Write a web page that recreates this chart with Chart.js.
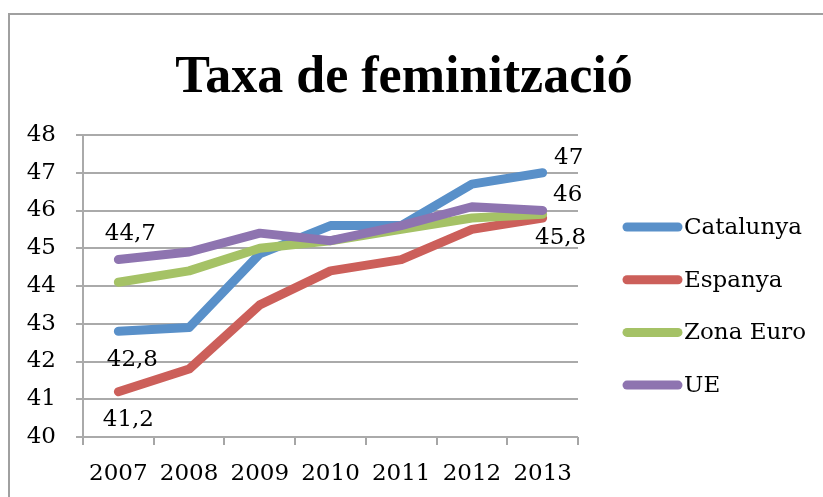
<!DOCTYPE html>
<html>
<head>
<meta charset="utf-8">
<script src="https://cdn.jsdelivr.net/npm/chart.js@4"></script>
<style>
  body { margin: 0; background: #fff; }
  #wrap { position: relative; width: 823px; height: 497px; overflow: hidden; }
  #frame { position: absolute; left: 8px; top: 13px; width: 900px; height: 600px;
           border-left: 2px solid #a0a0a0; border-top: 2px solid #a0a0a0; }
  #chart { position: absolute; left: 0; top: 0; }
</style>
</head>
<body>
<div id="wrap">
  <div id="frame"></div>
  <canvas id="chart" width="823" height="497"></canvas>
</div>
<script>
        // Dades
        const chartTitle = 'Taxa de feminització';
        const years = ['2007', '2008', '2009', '2010', '2011', '2012', '2013'];
        const seriesNames = ['Catalunya', 'Espanya', 'Zona Euro', 'UE'];
        const catalunya = [42.8, 42.9, 44.85, 45.6, 45.6, 46.7, 47.0];
        const espanya = [41.2, 41.8, 43.5, 44.4, 44.7, 45.5, 45.8];
        const zonaEuro = [44.1, 44.4, 45.0, 45.2, 45.5, 45.8, 45.9];
        const ue = [44.7, 44.9, 45.4, 45.2, 45.6, 46.1, 46.0];
        const colors = ['#5990c9', '#cc5f5a', '#a5c266', '#8e74b0'];

        // etiquetes de valor (serie, punt, desplaçament)
        const valueLabels = [
            { ds: 3, i: 0, dx: 12, dy: -26 },
            { ds: 0, i: 0, dx: 14, dy: 29 },
            { ds: 1, i: 0, dx: 10, dy: 28 },
            { ds: 0, i: 6, dx: 26, dy: -15 },
            { ds: 3, i: 6, dx: 25, dy: -15 },
            { ds: 1, i: 6, dx: 18, dy: 20 }
        ];

        const FONT = 'DejaVu Serif';
        const FSIZE = 23;
        const allValues = [catalunya, espanya, zonaEuro, ue];

        const datasets = seriesNames.map((name, k) => ({
            label: name,
            data: allValues[k],
            borderColor: colors[k],
            backgroundColor: colors[k],
            borderWidth: 9,
            borderCapStyle: 'round',
            borderJoinStyle: 'round',
            pointRadius: 0,
            tension: 0,
            order: 3 - k   // UE a dalt de tot, com a Excel
        }));

        // Títol centrat sobre tot el marc
        const titlePlugin = {
            id: 'bigTitle',
            afterDraw(chart) {
                const ctx = chart.ctx;
                ctx.save();
                ctx.font = 'bold 52px "Liberation Serif"';
                ctx.fillStyle = '#000';
                ctx.textAlign = 'center';
                ctx.textBaseline = 'alphabetic';
                ctx.fillText(chartTitle, 404, 92);
                ctx.restore();
            }
        };

        // Etiquetes de dades
        const labelPlugin = {
            id: 'valueLabels',
            afterDatasetsDraw(chart) {
                const ctx = chart.ctx;
                ctx.save();
                ctx.font = FSIZE + 'px "' + FONT + '"';
                ctx.fillStyle = '#000';
                ctx.textAlign = 'center';
                ctx.textBaseline = 'middle';
                valueLabels.forEach(l => {
                    const pt = chart.getDatasetMeta(l.ds).data[l.i];
                    const v = chart.data.datasets[l.ds].data[l.i];
                    ctx.fillText(String(v).replace('.', ','), pt.x + l.dx, pt.y + l.dy);
                });
                ctx.restore();
            }
        };

        // Llegenda a la dreta
        const legendPlugin = {
            id: 'sideLegend',
            afterDraw(chart) {
                const ctx = chart.ctx;
                const x0 = 623, y0 = 227, step = 52.7;
                ctx.save();
                ctx.font = FSIZE + 'px "' + FONT + '"';
                ctx.textBaseline = 'middle';
                chart.data.datasets.forEach((d, k) => {
                    const y = y0 + k * step;
                    ctx.strokeStyle = d.borderColor;
                    ctx.lineWidth = 9;
                    ctx.lineCap = 'round';
                    ctx.beginPath();
                    ctx.moveTo(x0 + 4, y);
                    ctx.lineTo(x0 + 55, y);
                    ctx.stroke();
                    ctx.fillStyle = '#000';
                    ctx.fillText(d.label, x0 + 61, y + 1);
                });
                ctx.restore();
            }
        };

        new Chart(document.getElementById('chart'), {
            type: 'line',
            data: { labels: years, datasets: datasets },
            options: {
                responsive: false,
                animation: false,
                layout: { padding: { left: 0, right: 245, top: 135, bottom: 0 } },
                plugins: {
                    legend: { display: false },
                    tooltip: { enabled: false },
                    title: { display: false }
                },
                scales: {
                    x: {
                        offset: true,
                        grid: { offset: true, drawOnChartArea: false, color: '#a6a6a6', lineWidth: 2, tickLength: 8 },
                        border: { display: false },
                        ticks: { color: '#000', padding: 15, maxRotation: 0, font: { family: FONT, size: FSIZE } },
                        afterFit: s => { s.height = 60; }
                    },
                    y: {
                        min: 40,
                        max: 48,
                        grid: { color: '#aaaaaa', lineWidth: 2, tickLength: 7 },
                        border: { color: '#aaaaaa', width: 2 },
                        ticks: { stepSize: 1, color: '#000', padding: 20, font: { family: FONT, size: FSIZE } },
                        afterFit: s => { s.width = 83; }
                    }
                }
            },
            plugins: [titlePlugin, labelPlugin, legendPlugin]
        });
</script>
</body>
</html>
